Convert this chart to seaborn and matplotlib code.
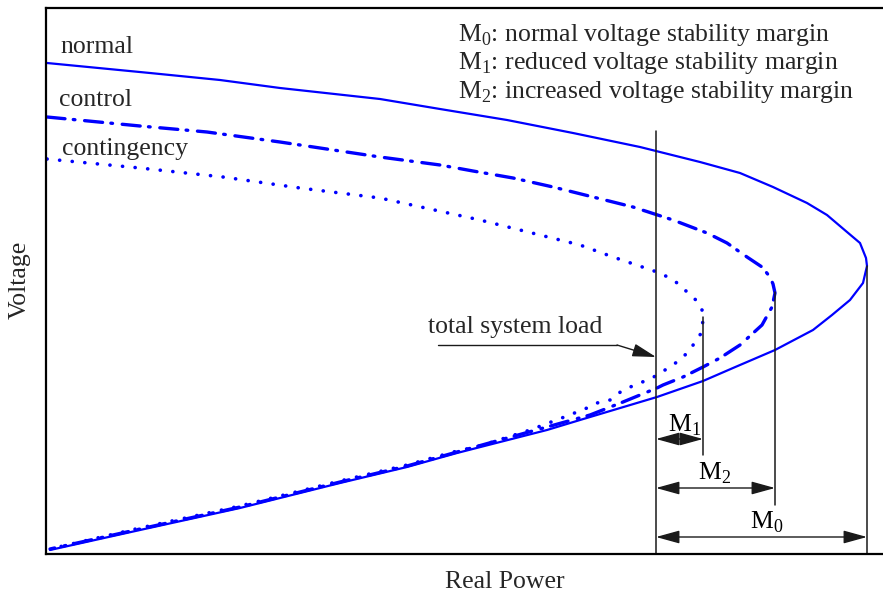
import numpy as np
import pandas as pd
import seaborn as sns
import matplotlib
matplotlib.use("Agg")
import matplotlib.pyplot as plt

# P-V curves, arbitrary units (real power P, voltage V), upper branch then lower branch
normal_p = [1, 104, 174, 234, 334, 394, 461, 527, 594, 610, 654, 694, 727, 761, 781, 801, 814, 820, 821,
            817, 804, 786, 767, 729, 687, 657, 611, 534, 501, 411, 361, 294, 194, 94, 4]
normal_v = [491, 481, 474, 466, 455, 445, 434, 421, 407, 403, 392, 381, 367, 351, 339, 322, 311, 296, 288,
            271, 254, 239, 224, 204, 186, 173, 157, 134, 124, 101, 87, 71, 46, 24, 4]

control_p = [1, 94, 161, 234, 334, 394, 427, 467, 507, 547, 587, 627, 661, 681, 701, 716, 724, 727, 729,
             726, 716, 694, 674, 657, 637, 617, 611, 577, 544, 501, 454, 411, 361, 294, 194, 94, 4]
control_v = [437, 428, 422, 412, 397, 389, 383, 376, 367, 357, 347, 334, 321, 311, 297, 287, 277, 270, 261,
             247, 229, 209, 196, 187, 177, 169, 166, 152, 139, 127, 114, 102, 88, 72, 47, 25, 5]

conting_p = [1, 94, 177, 254, 334, 434, 534, 567, 611, 624, 634, 642, 651, 656, 657,
             656, 649, 644, 634, 616, 606, 594, 577, 564, 551, 541, 521, 484, 434, 411, 361, 294, 194, 94, 4]
conting_v = [395, 386, 377, 366, 356, 334, 309, 297, 282, 276, 269, 261, 253, 244, 236,
             222, 212, 204, 194, 182, 176, 171, 164, 154, 151, 146, 138, 124, 108, 103, 89, 73, 48, 26, 5]

# load level and margin markers
load_p = 610
load_top = 423
nose_p = {"M1": 657, "M2": 729, "M0": 821}
nose_line = {"M1": (99, 237), "M2": (49, 262), "M0": (0, 288)}
arrow_v = {"M1": 115, "M2": 66, "M0": 17}
label_pos = {"M1": (639, 129), "M2": (669, 81), "M0": (721, 32)}

legend_lines = ["M$_0$: normal voltage stability margin",
                "M$_1$: reduced voltage stability margin",
                "M$_2$: increased voltage stability margin"]
legend_v = [519, 491, 462]

sns.set_theme(style="white")
plt.rcParams['font.family'] = ['Liberation Serif', 'DejaVu Serif']
plt.rcParams['mathtext.fontset'] = 'custom'
plt.rcParams['mathtext.rm'] = 'Liberation Serif'
plt.rcParams['lines.scale_dashes'] = False

fs = 18.5
fig = plt.figure(figsize=(8.83, 5.94), dpi=100)
ax = fig.add_axes([46 / 883, 40 / 594, 837 / 883, 546 / 594])

blue = "#0000ff"
sns.lineplot(x=normal_p, y=normal_v, sort=False, estimator=None, ax=ax, color=blue, lw=1.6)
sns.lineplot(x=control_p, y=control_v, sort=False, estimator=None, ax=ax, color=blue, lw=2.4)
sns.lineplot(x=conting_p, y=conting_v, sort=False, estimator=None, ax=ax, color=blue, lw=2.6)
lines = ax.get_lines()
for ln in lines:
    ln.set_solid_joinstyle("round")
lines[1].set_linestyle((0, (13, 6, 1.2, 7)))
lines[1].set_dash_capstyle("round")
lines[2].set_linestyle((0, (0.1, 9)))
lines[2].set_dash_capstyle("round")

ax.set_xlim(0, 837)
ax.set_ylim(0, 546)
ax.set_xticks([])
ax.set_yticks([])
ax.set_xlabel("")
ax.set_ylabel("")
for side in ["left", "bottom", "top"]:
    ax.spines[side].set_color("black")
    ax.spines[side].set_linewidth(1.6)
ax.spines["right"].set_visible(False)

dark = "#1a1a1a"
ax.plot([load_p, load_p], [0, load_top], color=dark, lw=1.1)
for key in ["M1", "M2", "M0"]:
    ax.plot([nose_p[key]] * 2, list(nose_line[key]), color=dark, lw=1.1)
    ax.annotate("", xy=(nose_p[key], arrow_v[key]), xytext=(load_p, arrow_v[key]),
                arrowprops=dict(arrowstyle="<|-|>,head_length=1.45,head_width=0.4",
                                color=dark, lw=1.0, shrinkA=0, shrinkB=0, mutation_scale=10))
    ax.text(label_pos[key][0], label_pos[key][1], key[0] + "$_" + key[1] + "$",
            fontsize=fs, ha="center", va="center", color="black")

# total system load pointer
ax.plot([392, 571], [209, 209], color=dark, lw=1.0)
ax.annotate("", xy=(load_p, 197), xytext=(571, 209),
            arrowprops=dict(arrowstyle="-|>,head_length=1.45,head_width=0.4",
                            color=dark, lw=1.0, shrinkA=0, shrinkB=0, mutation_scale=10))
ax.text(382, 227, "total system load", fontsize=fs, ha="left", va="center")

ax.text(14, 507, "normal", fontsize=fs, ha="left", va="center")
ax.text(13, 454, "control", fontsize=fs, ha="left", va="center")
ax.text(16, 405, "contingency", fontsize=fs, ha="left", va="center")

for txt, v in zip(legend_lines, legend_v):
    ax.text(412, v, txt, fontsize=fs, ha="left", va="center")

fig.text(20 / 883, 1 - 280 / 594, "Voltage", rotation=90, fontsize=fs, ha="center", va="center")
fig.text(505 / 883, 1 - 582 / 594, "Real Power", fontsize=fs, ha="center", va="center")

fig.savefig("out.png", dpi=100)
